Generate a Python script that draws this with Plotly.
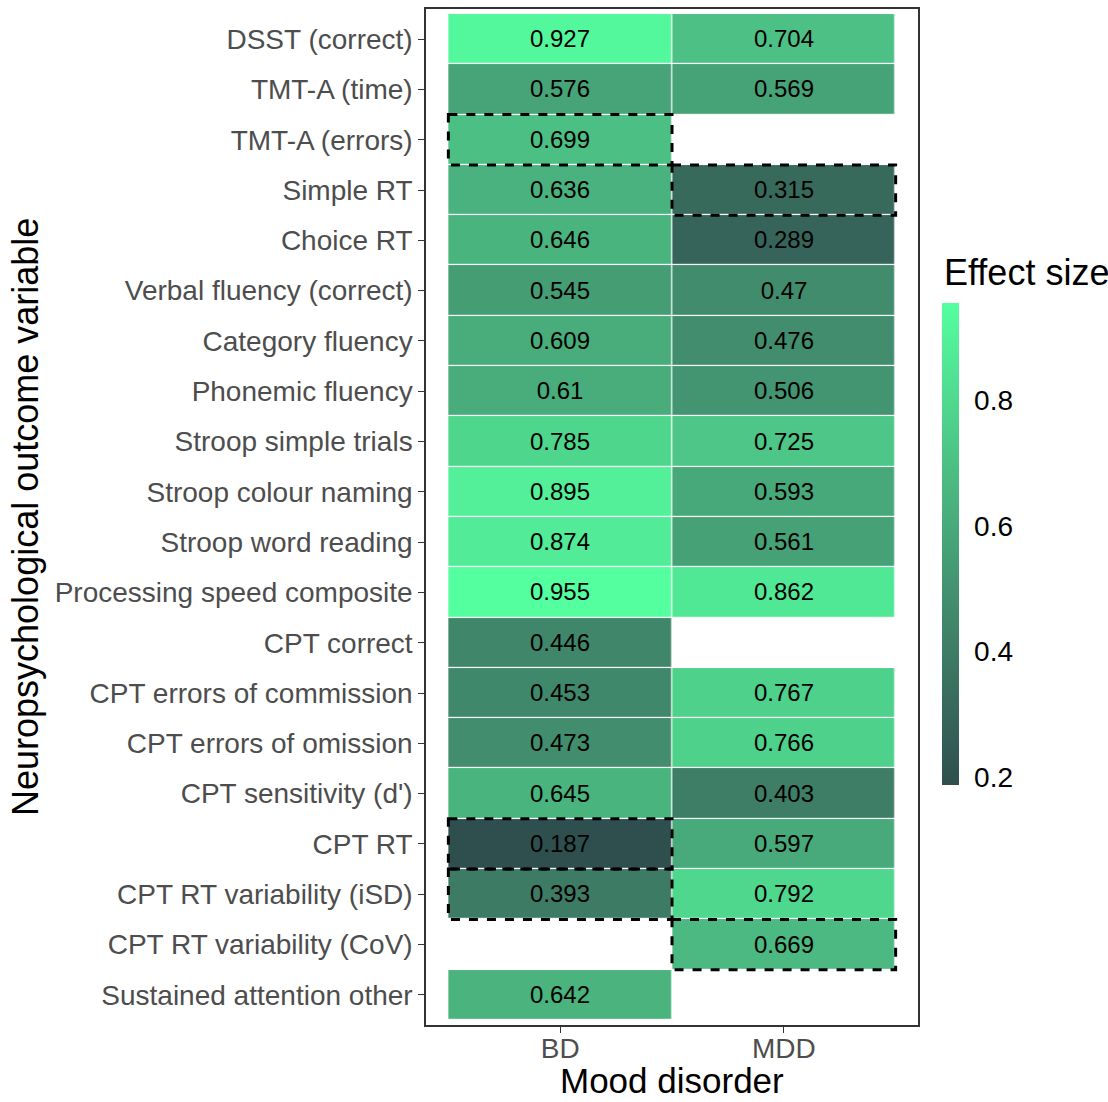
import plotly.graph_objects as go

# Outcome variables (top to bottom) and effect sizes per mood disorder
outcomes = [
    "DSST (correct)", "TMT-A (time)", "TMT-A (errors)", "Simple RT", "Choice RT",
    "Verbal fluency (correct)", "Category fluency", "Phonemic fluency",
    "Stroop simple trials", "Stroop colour naming", "Stroop word reading",
    "Processing speed composite", "CPT correct", "CPT errors of commission",
    "CPT errors of omission", "CPT sensitivity (d')", "CPT RT",
    "CPT RT variability (iSD)", "CPT RT variability (CoV)", "Sustained attention other",
]
disorders = ["BD", "MDD"]
bd_effect = [0.927, 0.576, 0.699, 0.636, 0.646, 0.545, 0.609, 0.61, 0.785, 0.895,
             0.874, 0.955, 0.446, 0.453, 0.473, 0.645, 0.187, 0.393, None, 0.642]
mdd_effect = [0.704, 0.569, None, 0.315, 0.289, 0.47, 0.476, 0.506, 0.725, 0.593,
              0.561, 0.862, None, 0.767, 0.766, 0.403, 0.597, 0.792, 0.669, None]
# Cells outlined with a dashed border (disorder, outcome)
flagged = [("BD", "TMT-A (errors)"), ("MDD", "Simple RT"), ("BD", "CPT RT"),
           ("BD", "CPT RT variability (iSD)"), ("MDD", "CPT RT variability (CoV)")]

FONT = "Arial, Liberation Sans, sans-serif"
LOW, HIGH = "#2F4F4F", "#54FF9F"

W, H = 1108, 1102
ML, MR, MT, MB = 426, 190, 9, 77
PLOT_W = W - ML - MR
PLOT_H = H - MT - MB


# Gradient interpolated in CIELAB space
def _hex_to_rgb(h):
    h = h.lstrip("#")
    return [int(h[i:i + 2], 16) / 255 for i in (0, 2, 4)]


def _lin(c):
    return c / 12.92 if c <= 0.04045 else ((c + 0.055) / 1.055) ** 2.4


def _gam(c):
    c = max(0.0, min(1.0, c))
    return 12.92 * c if c <= 0.0031308 else 1.055 * c ** (1 / 2.4) - 0.055


WHITE = (0.95047, 1.0, 1.08883)


def _to_lab(h):
    r, g, b = [_lin(c) for c in _hex_to_rgb(h)]
    x = 0.4124 * r + 0.3576 * g + 0.1805 * b
    y = 0.2126 * r + 0.7152 * g + 0.0722 * b
    z = 0.0193 * r + 0.1192 * g + 0.9505 * b

    def f(t):
        return t ** (1 / 3) if t > 0.008856 else 7.787 * t + 16 / 116
    fx, fy, fz = f(x / WHITE[0]), f(y / WHITE[1]), f(z / WHITE[2])
    return 116 * fy - 16, 500 * (fx - fy), 200 * (fy - fz)


def _from_lab(L, a, b):
    fy = (L + 16) / 116
    fx = fy + a / 500
    fz = fy - b / 200

    def finv(t):
        return t ** 3 if t ** 3 > 0.008856 else (t - 16 / 116) / 7.787
    x, y, z = WHITE[0] * finv(fx), WHITE[1] * finv(fy), WHITE[2] * finv(fz)
    r = 3.2406 * x - 1.5372 * y - 0.4986 * z
    g = -0.9689 * x + 1.8758 * y + 0.0415 * z
    bb = 0.0557 * x - 0.2040 * y + 1.0570 * z
    return "rgb(%d,%d,%d)" % tuple(round(_gam(c) * 255) for c in (r, g, bb))


lo, hi = _to_lab(LOW), _to_lab(HIGH)
n = 16
colorscale = []
for i in range(n + 1):
    t = i / n
    colorscale.append([t, _from_lab(*[lo[k] + (hi[k] - lo[k]) * t for k in range(3)])])

z = [[bd, mdd] for bd, mdd in zip(bd_effect, mdd_effect)]
text = [["" if v is None else str(v) for v in row] for row in z]

# colour bar geometry (pixels from top of page)
CB_TOP, CB_BOTTOM, CB_LEFT = 303, 785, 942

fig = go.Figure(go.Heatmap(
    x=disorders, y=outcomes, z=z, text=text, texttemplate="%{text}",
    textfont=dict(family=FONT, size=24, color="black"),
    colorscale=colorscale, xgap=1.2, ygap=1.2, hoverongaps=False,
    colorbar=dict(
        xref="container", x=CB_LEFT / W, xanchor="left", xpad=0,
        yref="paper", y=(H - MB - CB_BOTTOM) / PLOT_H, yanchor="bottom", ypad=0,
        len=CB_BOTTOM - CB_TOP, lenmode="pixels", thickness=17, thicknessmode="pixels",
        outlinewidth=0, tickvals=[0.2, 0.4, 0.6, 0.8],
        ticks="outside", ticklen=10, tickcolor="rgba(0,0,0,0)", tickwidth=1,
        tickfont=dict(family=FONT, size=28, color="black"),
    ),
))

# legend title above the colour bar
fig.add_annotation(
    text="Effect size", xref="paper", yref="paper",
    x=(CB_LEFT - ML) / PLOT_W, y=(H - MB - CB_TOP + 8) / PLOT_H,
    xanchor="left", yanchor="bottom", showarrow=False,
    font=dict(family=FONT, size=36, color="black"),
)
# axis titles
fig.add_annotation(
    text="Mood disorder", xref="paper", yref="paper",
    x=0.5, y=-(1080 - (H - MB)) / PLOT_H, xanchor="center", yanchor="middle",
    showarrow=False, font=dict(family=FONT, size=35, color="black"),
)
fig.add_annotation(
    text="Neuropsychological outcome variable", xref="paper", yref="paper",
    x=-(ML - 25) / PLOT_W, y=0.5, xanchor="center", yanchor="middle", textangle=-90,
    showarrow=False, font=dict(family=FONT, size=36, color="black"),
)

for dis, out in flagged:
    xi, yi = disorders.index(dis), outcomes.index(out)
    fig.add_shape(type="rect", xref="x", yref="y",
                  x0=xi - 0.5, x1=xi + 0.5, y0=yi - 0.5, y1=yi + 0.5,
                  line=dict(color="black", width=3, dash="dash"), layer="above")

fig.update_layout(
    width=W, height=H,
    margin=dict(l=ML, r=MR, t=MT, b=MB, autoexpand=False),
    plot_bgcolor="white", paper_bgcolor="white",
    font=dict(family=FONT),
)
fig.update_xaxes(
    range=[-0.6, 1.6], showgrid=False, zeroline=False, automargin=False,
    showline=True, mirror=True, linecolor="#333333", linewidth=1.5,
    ticks="outside", ticklen=6, tickcolor="#333333", ticklabelstandoff=-8,
    tickfont=dict(family=FONT, size=28, color="#4D4D4D"),
)
fig.update_yaxes(
    range=[19.6, -0.6], categoryorder="array", categoryarray=outcomes,
    showgrid=False, zeroline=False, automargin=False,
    showline=True, mirror=True, linecolor="#333333", linewidth=1.5,
    ticks="outside", ticklen=6, tickcolor="#333333",
    tickfont=dict(family=FONT, size=28, color="#4D4D4D"),
)

fig.write_html("out.html")
